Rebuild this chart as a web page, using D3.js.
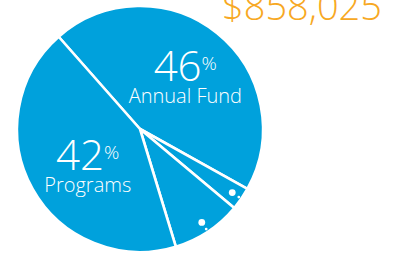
<!DOCTYPE html>
<html>
<head>
<meta charset="utf-8">
<script src="https://cdn.jsdelivr.net/npm/d3@7"></script>
<style>
  body { margin: 0; background: #fff; }
  text { font-family: "Open Sans", sans-serif; font-weight: 300; fill: #fff; }
</style>
</head>
<body>
<script>
const width = 400;
const height = 269;

// slice shares as drawn, and the printed labels
const categories = ['Annual Fund', 'Other A', 'Other B', 'Programs'];
const shares = [44.6, 3.0, 9.2, 43.2];
const printed = ['46', null, null, '42'];
const total = '$858,025';

const blue = '#00a1dc';
const orange = '#f7a823';

const cx = 140;
const cy = 129;
const radius = 123;

const svg = d3.select('body')
  .append('svg')
    .attr('width', width)
    .attr('height', height);

const pie = d3.pie()
  .sort(null)
  .startAngle(-41.4 * Math.PI / 180)
  .endAngle((360 - 41.4) * Math.PI / 180)
  .value(d => d.value);

const data = pie(categories.map((c, i) => ({ name: c, value: shares[i], label: printed[i] })));

const arc = d3.arc().innerRadius(0).outerRadius(radius);

const g = svg.append('g')
  .attr('transform', `translate(${cx}, ${cy})`);

g.selectAll('path')
  .data(data)
  .enter()
    .append('path')
    .attr('d', arc)
    .attr('fill', blue)
    .attr('stroke', '#fff')
    .attr('stroke-width', 2.6)
    .attr('stroke-linejoin', 'round');

// small dots on the thin slices
const mid = (d) => (d.startAngle + d.endAngle) / 2;
const polar = (a, r) => [Math.sin(a) * r, -Math.cos(a) * r];

const small = data.filter(d => !d.data.label);

g.selectAll('.dot')
  .data(small)
  .enter()
    .append('circle')
    .attr('class', 'dot')
    .attr('cx', d => polar(mid(d), 112)[0])
    .attr('cy', d => polar(mid(d), 112)[1])
    .attr('r', 3.4)
    .attr('fill', '#fff');

g.selectAll('.tiny')
  .data(small)
  .enter()
    .append('circle')
    .attr('class', 'tiny')
    .attr('cx', d => polar(mid(d), 120)[0])
    .attr('cy', d => polar(mid(d), 120)[1])
    .attr('r', 1.4)
    .attr('fill', '#fff');

// big labels
const nudge = {
  'Annual Fund': [7, 0],
  'Programs': [1, 12],
};

const labels = g.selectAll('.label')
  .data(data.filter(d => d.data.label))
  .enter()
    .append('g')
    .attr('class', 'label')
    .attr('transform', d => {
      const p = polar(mid(d), 61);
      const n = nudge[d.data.name];
      return `translate(${p[0] + n[0]}, ${p[1] + n[1]})`;
    });

const pct = labels.append('text')
  .attr('text-anchor', 'middle')
  .attr('y', -1);

pct.append('tspan')
  .attr('font-size', 42)
  .text(d => d.data.label);

pct.append('tspan')
  .attr('font-size', 19)
  .attr('dy', -11)
  .text('%');

labels.append('text')
  .attr('text-anchor', 'middle')
  .attr('y', 21)
  .attr('font-size', 20)
  .text(d => d.data.name);

svg.append('text')
  .attr('x', 302)
  .attr('y', 20)
  .attr('text-anchor', 'middle')
  .attr('font-size', 38)
  .style('fill', orange)
  .text(total);
</script>
</body>
</html>
